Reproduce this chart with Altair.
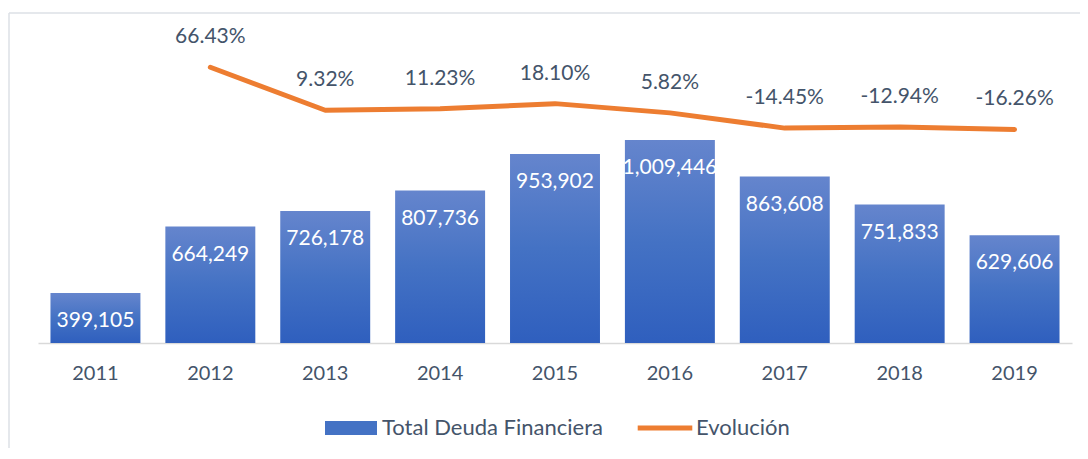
import altair as alt
import pandas as pd

years = ["2011", "2012", "2013", "2014", "2015", "2016", "2017", "2018", "2019"]
totals = [399105, 664249, 726178, 807736, 953902, 1009446, 863608, 751833, 629606]
evol = [None, 0.6643, 0.0932, 0.1123, 0.1810, 0.0582, -0.1445, -0.1294, -0.1626]
series = ["Total Deuda Financiera", "Evolución"]
series_colors = ["#4472C4", "#ED7D31"]

df = pd.DataFrame({"anio": years, "total": totals, "evol": evol})

W, H = 1034, 301
FONT = "Lato"
TXT = "#44546A"

x = alt.X("anio:N", title=None,
          scale=alt.Scale(paddingInner=0.217, paddingOuter=0.1085),
          axis=alt.Axis(labelAngle=0, ticks=False, domainColor="#D9D9D9", domainWidth=1.5,
                        labelFont=FONT, labelFontSize=20, labelColor=TXT, labelPadding=20,
                        grid=False))

y_bar = alt.Y("total:Q", axis=None, scale=alt.Scale(domain=[200000, 1400000], zero=False))
y_line = alt.Y("evol:Q", axis=None, scale=alt.Scale(domain=[-3, 1], zero=False))

grad = alt.Gradient(gradient="linear", x1=0, x2=0, y1=0, y2=1,
                    stops=[alt.GradientStop(color="#6585CD", offset=0),
                           alt.GradientStop(color="#4472C4", offset=0.5),
                           alt.GradientStop(color="#2F5FBE", offset=1)])

base = alt.Chart(df)

bars = base.mark_bar(fill=grad).encode(x=x, y=y_bar, y2=alt.datum(200000))

bar_text = base.mark_text(color="white", font=FONT, fontSize=21, baseline="alphabetic", dy=34).encode(
    x=x, y=y_bar, text=alt.Text("total:Q", format=",d"))

line_df = base.transform_filter("isValid(datum.evol)")

line = line_df.mark_line(color="#ED7D31", strokeWidth=5, strokeCap="round", strokeJoin="round").encode(
    x=x, y=y_line)

line_text = line_df.transform_calculate(
    lab="replace(format(datum.evol, '.2%'), '\u2212', '-')"
).mark_text(color=TXT, font=FONT, fontSize=21, baseline="alphabetic", dy=-24).encode(
    x=x, y=y_line, text="lab:N")

border = alt.Chart(alt.Data(values=[{"k": 1}]))
top_line = border.mark_rule(color="#DCE0E6", strokeWidth=1.5).encode(
    x=alt.value(-29), x2=alt.value(W + 10), y=alt.value(-29))
left_line = border.mark_rule(color="#DCE0E6", strokeWidth=1.5).encode(
    x=alt.value(-29), y=alt.value(-29), y2=alt.value(H + 115))

legend_layer = alt.Chart(pd.DataFrame({"serie": series})).transform_filter("false").mark_point(
    filled=True, strokeWidth=0, opacity=1).encode(
    color=alt.Color("serie:N", scale=alt.Scale(domain=series, range=series_colors),
                    legend=alt.Legend(title=None, orient="none", direction="horizontal",
                                      legendX=287, legendY=360, symbolSize=2704,
                                      symbolOpacity=1, labelLimit=400,
                                      labelFont=FONT, labelFontSize=22, labelColor=TXT,
                                      labelOffset=5, columnPadding=34, symbolStrokeWidth=0)),
    shape=alt.Shape("serie:N", scale=alt.Scale(domain=series,
                                                range=["M-1,-0.27H1V0.27H-1Z",
                                                       "M-1.05,-0.1H1.05V0.1H-1.05Z"])),
)

chart = alt.layer(top_line, left_line, bars, bar_text, line, line_text, legend_layer).resolve_scale(
    y="independent"
).properties(
    width=W, height=H,
    autosize=alt.AutoSizeParams(type="none"),
    padding={"left": 30, "top": 34, "right": 8, "bottom": 105},
).configure_view(stroke=None)

chart.save("out.html", embed_options={"renderer": "svg", "actions": False})
